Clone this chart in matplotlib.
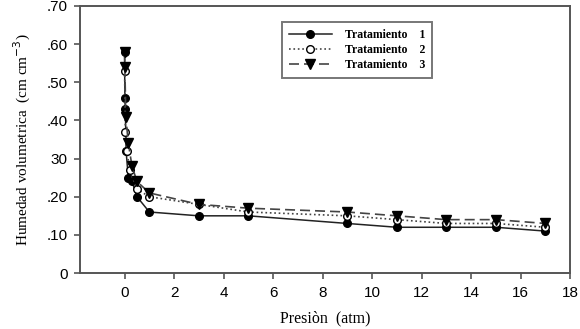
import numpy as np
import matplotlib
matplotlib.use('Agg')
import matplotlib.pyplot as plt

# presion (atm)
x1 = [0, 0.01, 0.03, 0.06, 0.15, 0.3, 0.5, 1, 3, 5, 9, 11, 13, 15, 17]
t1 = [58, 46, 43, 32, 25, 24, 20, 16, 15, 15, 13, 12, 12, 12, 11]

x2 = [0, 0.03, 0.1, 0.2, 0.5, 1, 3, 5, 9, 11, 13, 15, 17]
t2 = [53, 37, 32, 27, 22, 20, 18, 16, 15, 14, 13, 13, 12]

x3 = [0, 0.01, 0.05, 0.15, 0.3, 0.5, 1, 3, 5, 9, 11, 13, 15, 17]
t3 = [58, 54, 41, 34, 28, 24, 21, 18, 17, 16, 15, 14, 14, 13]

yticks = [0, 10, 20, 30, 40, 50, 60, 70]
ylabels = ['0', '.10', '.20', '30', '.40', '.50', '.60', '.70']

fig = plt.figure(figsize=(5.8, 3.29), dpi=100)
ax = fig.add_axes([0.138, 0.170, 0.845, 0.812])

ax.plot(x1, t1, '-', color='#222222', lw=1.1, marker='o', ms=5.5,
        mfc='black', mec='black', label='Tratamiento    1')
ax.plot(x2, t2, ':', color='#444444', lw=1.2, marker='o', ms=5.5,
        mfc='white', mec='black', label='Tratamiento    2')
ax.plot(x3, t3, '--', color='#444444', lw=1.2, marker='v', ms=6.5,
        mfc='black', mec='black', label='Tratamiento    3', dashes=(6, 3))

ax.set_xlim(-1.8, 18)
ax.set_ylim(0, 70)
ax.set_xticks(range(0, 19, 2))
ax.set_yticks(yticks)
ax.set_yticklabels(ylabels)
for lab in ax.get_xticklabels() + ax.get_yticklabels():
    lab.set_family('Liberation Sans')
    lab.set_fontsize(11)
ax.tick_params(direction='out', length=4, width=1.2, color='#555555', pad=5)
for s in ax.spines.values():
    s.set_color('#555555')
    s.set_linewidth(1.4)

ax.set_xlabel('Presiòn  (atm)', family='Liberation Serif', fontsize=11.5, labelpad=8)
ax.set_ylabel('Humedad volumetrica  (cm cm$^{-3}$)', family='Liberation Serif',
              fontsize=11, labelpad=10)

leg = ax.legend(loc='upper left', bbox_to_anchor=(0.4, 0.962), frameon=True,
                fancybox=False, edgecolor='#555555', handlelength=3.6,
                borderpad=0.6, labelspacing=0.25, handletextpad=1.1,
                prop={'family': 'Liberation Serif', 'weight': 'bold', 'size': 8.5})
leg.get_frame().set_linewidth(1.4)

plt.savefig('out.png', dpi=100)
